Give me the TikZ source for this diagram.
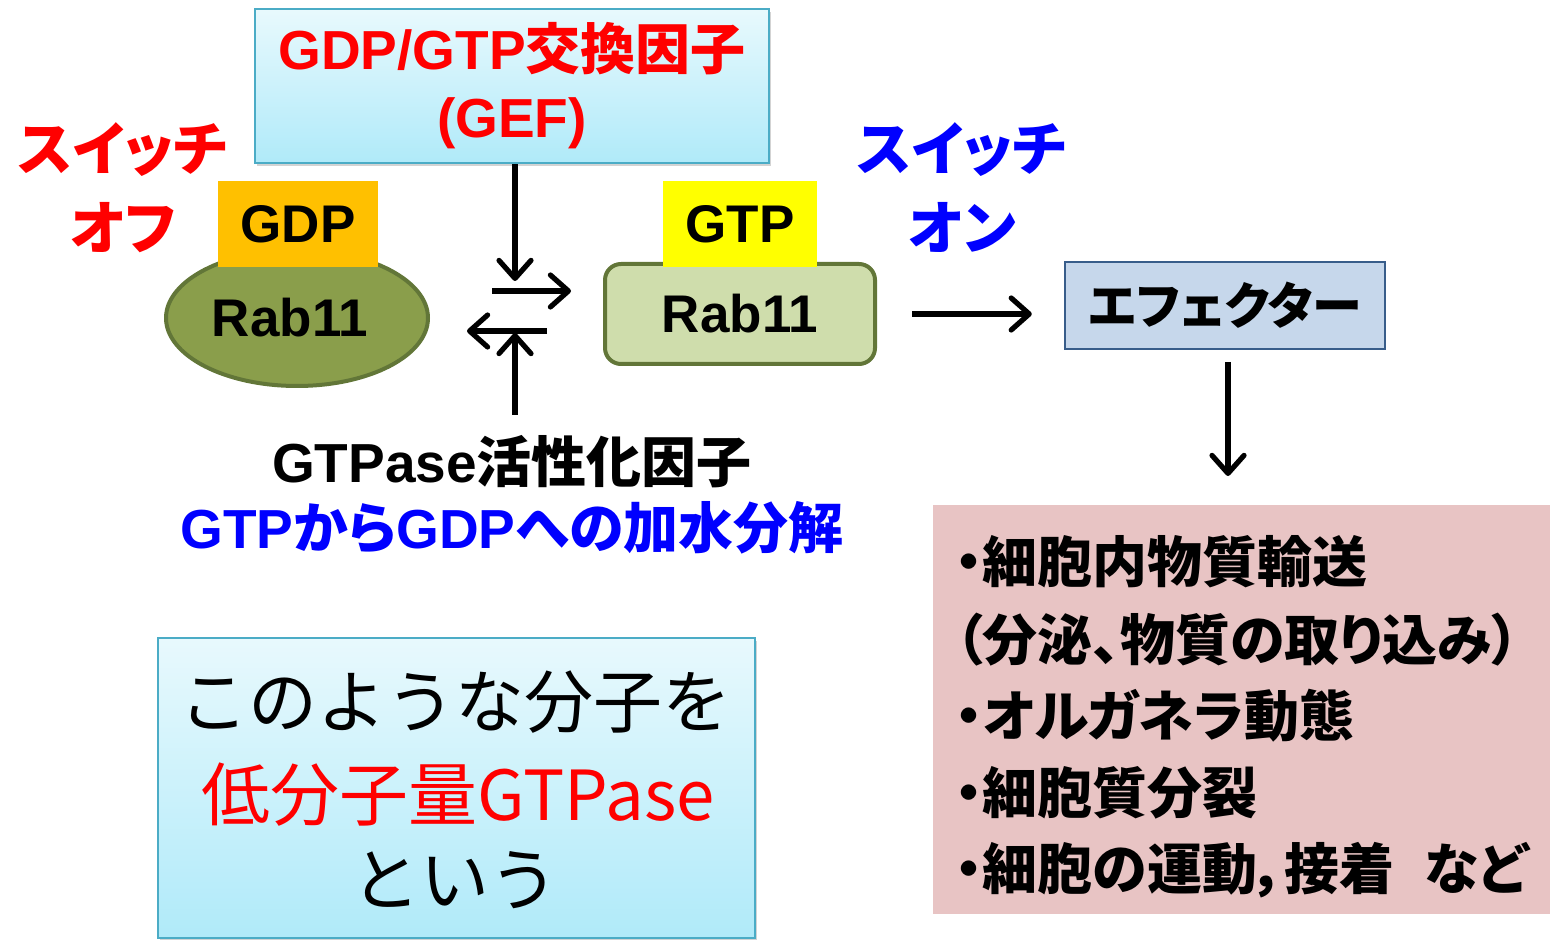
\documentclass[tikz,border=0pt]{standalone}
\usepackage{fontspec}
\setmainfont{Liberation Sans}
\newfontfamily\cjk[RawFeature=+palt]{Noto Sans CJK JP}
\newfontfamily\cjkn{Noto Sans CJK JP}
\usetikzlibrary{shapes.geometric,arrows.meta,calc,shadows}
\definecolor{cred}{RGB}{255,0,0}
\definecolor{cblue}{RGB}{0,0,255}
\definecolor{gdpc}{RGB}{255,192,0}
\definecolor{gtpc}{RGB}{255,255,0}
\definecolor{olivef}{RGB}{138,158,75}
\definecolor{oliveb}{RGB}{98,118,56}
\definecolor{lightg}{RGB}{207,221,172}
\definecolor{efff}{RGB}{198,215,235}
\definecolor{effb}{RGB}{56,93,138}
\definecolor{pinkf}{RGB}{232,196,196}
\definecolor{cyanb}{RGB}{75,172,198}
\definecolor{gradtop}{RGB}{232,249,253}
\definecolor{gradbot}{RGB}{176,234,249}
\begin{document}
\begin{tikzpicture}[x=0.5pt,y=-0.5pt,
  gradbox/.style={draw=cyanb, line width=1.2pt, top color=gradtop, bottom color=gradbot,
    drop shadow={shadow xshift=1.2pt, shadow yshift=-1.5pt, opacity=0.35}},
  arr/.style={line width=2.6pt, -{Straight Barb[round,length=9pt,width=16pt]}},
  lbl/.style={font=\bfseries\fontsize{29}{39.5}\selectfont, align=center, inner sep=0pt},
  item/.style={anchor=west, inner sep=0pt, font=\cjk\bfseries\fontsize{27.5}{30}\selectfont},
  bigtxt/.style={inner sep=0pt, font=\cjkn\fontsize{34.5}{40}\selectfont}
]
\useasboundingbox (0,0) rectangle (1550,940);

% GEF box
\node[gradbox, minimum width=257pt, minimum height=77pt, inner sep=0pt, align=center,
  text=cred, font=\bfseries\fontsize{27.5}{34}\selectfont] (gef) at (512,86)
  {GDP/GTP{\cjk 交換因子}\\(GEF)};

% switch labels
\node[lbl, text=cred] (off) at (123,187.5) {{\cjk スイッチ}\\{\cjk オフ}};
\node[lbl, text=cblue] (on) at (962,187.5) {{\cjk スイッチ}\\{\cjk オン}};

% Rab11 GDP
\node[ellipse, draw=oliveb, line width=2pt, fill=olivef, minimum width=131pt, minimum height=68pt,
  inner sep=0pt, font=\bfseries\fontsize{26.5}{30}\selectfont] (rab1) at (297,318) {\hspace*{-7pt}Rab11};
\node[fill=gdpc, minimum width=80pt, minimum height=43pt, inner sep=0pt,
  font=\bfseries\fontsize{26.5}{30}\selectfont] (gdp) at (298,224) {GDP};

% Rab11 GTP
\node[draw=oliveb, line width=2pt, fill=lightg, rounded corners=8pt, minimum width=135pt, minimum height=50pt,
  inner sep=0pt, font=\bfseries\fontsize{26.5}{30}\selectfont] (rab2) at (740,314) {Rab11};
\node[fill=gtpc, minimum width=77pt, minimum height=43pt, inner sep=0pt,
  font=\bfseries\fontsize{26.5}{30}\selectfont] (gtp) at (740,224) {GTP};

% effector
\node[draw=effb, line width=1.2pt, fill=efff, minimum width=160pt, minimum height=43.5pt, inner sep=0pt,
  font=\cjk\bfseries\fontsize{25}{30}\selectfont] (eff) at (1225,305.5) {エフェクター};

% GAP label
\node[lbl, font=\bfseries\fontsize{27.5}{33}\selectfont] (gap) at (512,495)
  {GTPase{\cjk 活性化因子}\\\textcolor{cblue}{GTP{\cjk から}GDP{\cjk への加水分解}}};

% middle arrows
\coordinate (dn) at (515,281);
\coordinate (rs) at (492,291);
\coordinate (re) at (571,291);
\coordinate (ls) at (547,331);
\coordinate (le) at (467,331);
\coordinate (us) at (515,415);
\coordinate (ue) at (515,333);
\draw[arr] (gef.south -| dn) -- (dn);
\draw[arr] (rs) -- (re);
\draw[arr] (ls) -- (le);
\draw[arr] (us) -- (ue);

% pink box
\node[fill=pinkf, minimum width=308.5pt, minimum height=204.5pt, inner sep=0pt] (pink) at (1241.5,709.5) {};
\node[item] (l1) at (955,562) {・細胞内物質輸送};
\node[item] (l2) at (955,640) {（分泌、物質の取り込み）};
\node[item] (l3) at (955,716) {・オルガネラ動態};
\node[item] (l4) at (955,793) {・細胞質分裂};
\node[item] (l5) at (955,870) {・細胞の運動，接着{\fontsize{15}{15}\selectfont　}など};

% right arrows
\coordinate (ea) at (1228,362);
\draw[arr] ($(rab2.east)+(35,0)$) -- ($(rab2.east -| eff.west)+(-32,0)$);
\draw[arr] (ea) -- (ea |- 0,476);

% bottom-left box
\node[gradbox, minimum width=298.5pt, minimum height=150pt, inner sep=0pt] (small) at (456.5,788) {};
\node[bigtxt] (t1) at (455,702) {このような分子を};
\node[bigtxt, text=cred] (t2) at (458,795) {低分子量GTPase};
\node[bigtxt] (t3) at (455,880) {という};
\end{tikzpicture}
\end{document}
